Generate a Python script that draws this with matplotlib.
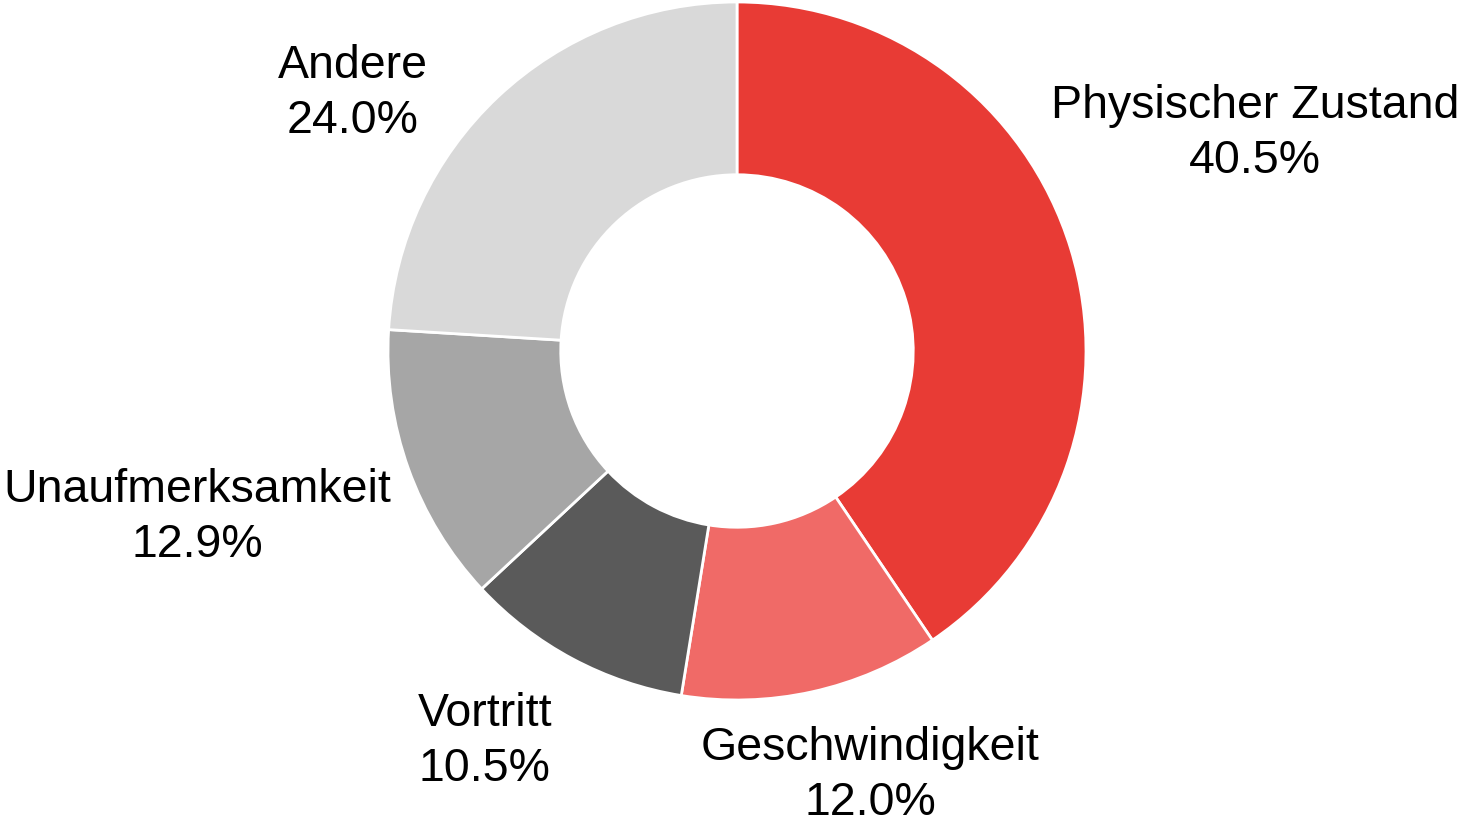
import numpy as np
import matplotlib.pyplot as plt

# Daten
labels = ['Physischer Zustand', 'Geschwindigkeit', 'Vortritt', 'Unaufmerksamkeit', 'Andere']
values = [40.5, 12.0, 10.5, 12.9, 24.0]
colors = ['#E83B35', '#F06A67', '#5A5A5A', '#A6A6A6', '#D9D9D9']

# Label-Layout: (Abstandsfaktor, Winkelversatz in Grad) relativ zur Segmentmitte
label_dist = [1.615, 1.261, 1.319, 1.615, 1.333]
label_shift = [6.2, 5.2, -5.1, -3.1, 12.4]

plt.rcParams['font.family'] = ['Liberation Sans', 'DejaVu Sans']

W, H = 1461, 820
fig = plt.figure(figsize=(W / 100, H / 100), dpi=100)
ax = fig.add_axes([0, 0, 1, 1])

radius = 349
center = (737, H - 352)

wedges, _ = ax.pie(values, colors=colors, startangle=90, counterclock=False,
                   radius=radius, center=center, frame=True,
                   wedgeprops=dict(width=radius * 0.495, edgecolor='white', linewidth=2))
ax.set_xlim(0, W)
ax.set_ylim(0, H)
ax.set_aspect('equal')
ax.axis('off')

for w, lab, val, k, d in zip(wedges, labels, values, label_dist, label_shift):
    mid = np.deg2rad((w.theta1 + w.theta2) / 2 + d)
    x = center[0] + radius * k * np.cos(mid)
    y = center[1] + radius * k * np.sin(mid) - 4
    ax.text(x, y, f'{lab}\n{val:.1f}%', ha='center', va='center', fontsize=33.5,
            color='black', linespacing=1.32)

fig.savefig('out.png', dpi=100)
